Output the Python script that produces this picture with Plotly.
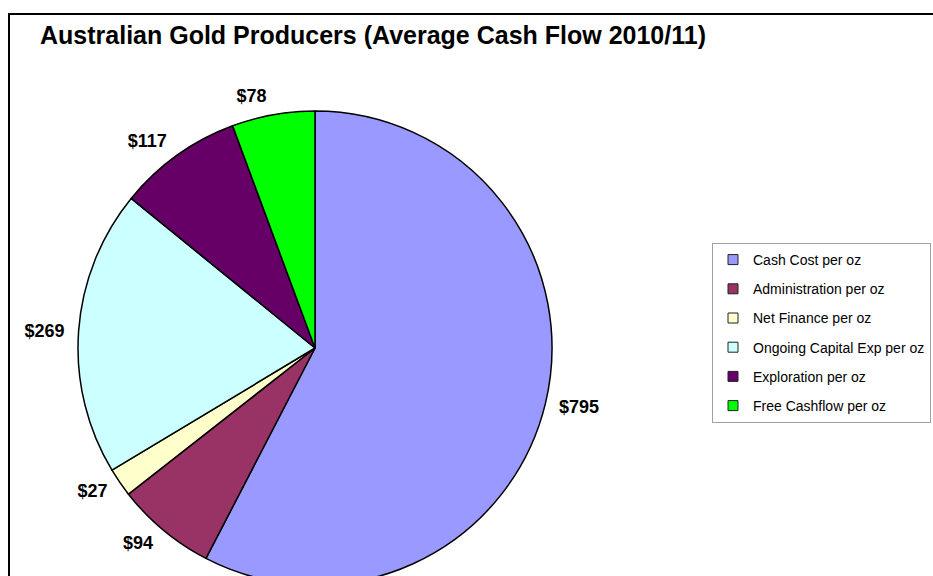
import plotly.graph_objects as go

# Average cash flow per ounce, Australian gold producers 2010/11
categories = [
    "Cash Cost per oz",
    "Administration per oz",
    "Net Finance per oz",
    "Ongoing Capital Exp per oz",
    "Exploration per oz",
    "Free Cashflow per oz",
]
values = [795, 94, 27, 269, 117, 78]
colors = ["#9999FF", "#993366", "#FFFFCC", "#CCFFFF", "#660066", "#00FF00"]

W, H = 933, 700
FONT = "Arial, Liberation Sans, sans-serif"

# pixel helpers (page coords measured from the top-left corner)
def px(x):
    return x / W

def py(y):
    return 1 - y / H

cx, cy, r = 315, 348, 237
r_lab = 246  # radius of the invisible ring that carries the value labels


def domain(rad):
    return dict(x=[px(cx - rad), px(cx + rad)], y=[py(cy + rad), py(cy - rad)])


fig = go.Figure()

# transparent ring, slightly larger, so the outside labels sit a bit off the pie
fig.add_trace(go.Pie(
    labels=categories,
    values=values,
    sort=False,
    direction="clockwise",
    rotation=0,
    marker=dict(colors=["rgba(0,0,0,0)"] * len(values),
                line=dict(color="rgba(0,0,0,0)", width=0)),
    texttemplate="$%{value}",
    textposition="outside",
    outsidetextfont=dict(family=FONT, size=18, color="#000000", weight="bold"),
    domain=domain(r_lab),
    showlegend=False,
    hoverinfo="skip",
))

fig.add_trace(go.Pie(
    labels=categories,
    values=values,
    sort=False,
    direction="clockwise",
    rotation=0,
    marker=dict(colors=colors, line=dict(color="#000000", width=1.5)),
    textinfo="none",
    domain=domain(r),
    showlegend=False,
    hoverinfo="label+value",
))

# legend entries as square swatches, one group each so they can be spaced out
for name, col in zip(categories, colors):
    fig.add_trace(go.Scatter(
        x=[None], y=[None], mode="markers", name=name,
        legendgroup=name,
        marker=dict(symbol="square", size=10, color=col,
                    line=dict(color="#222222", width=1)),
    ))

fig.update_layout(
    width=W, height=H,
    margin=dict(l=0, r=0, t=0, b=0),
    paper_bgcolor="white", plot_bgcolor="white",
    xaxis=dict(visible=False), yaxis=dict(visible=False),
    title=dict(
        text="Australian Gold Producers (Average Cash Flow 2010/11)",
        x=px(40), xanchor="left", xref="paper",
        y=py(35), yanchor="middle", yref="container",
        font=dict(family=FONT, size=25, color="#000000", weight="bold"),
    ),
    legend=dict(
        x=px(712), xanchor="left", y=py(243), yanchor="top",
        bordercolor="#A0A0A0", borderwidth=1, bgcolor="white",
        font=dict(family=FONT, size=14, color="#000000"),
        tracegroupgap=8,
    ),
    shapes=[dict(
        type="rect", xref="paper", yref="paper",
        x0=px(9), x1=1.2, y0=-0.2, y1=py(14),
        line=dict(color="#000000", width=2), fillcolor="rgba(0,0,0,0)",
        layer="above",
    )],
    showlegend=True,
)

fig.write_html(
    "out.html",
    post_script=(
        "document.documentElement.style.overflow='hidden';"
        "document.body.style.overflow='hidden';"
        "document.body.style.margin='0';"
    ),
)
